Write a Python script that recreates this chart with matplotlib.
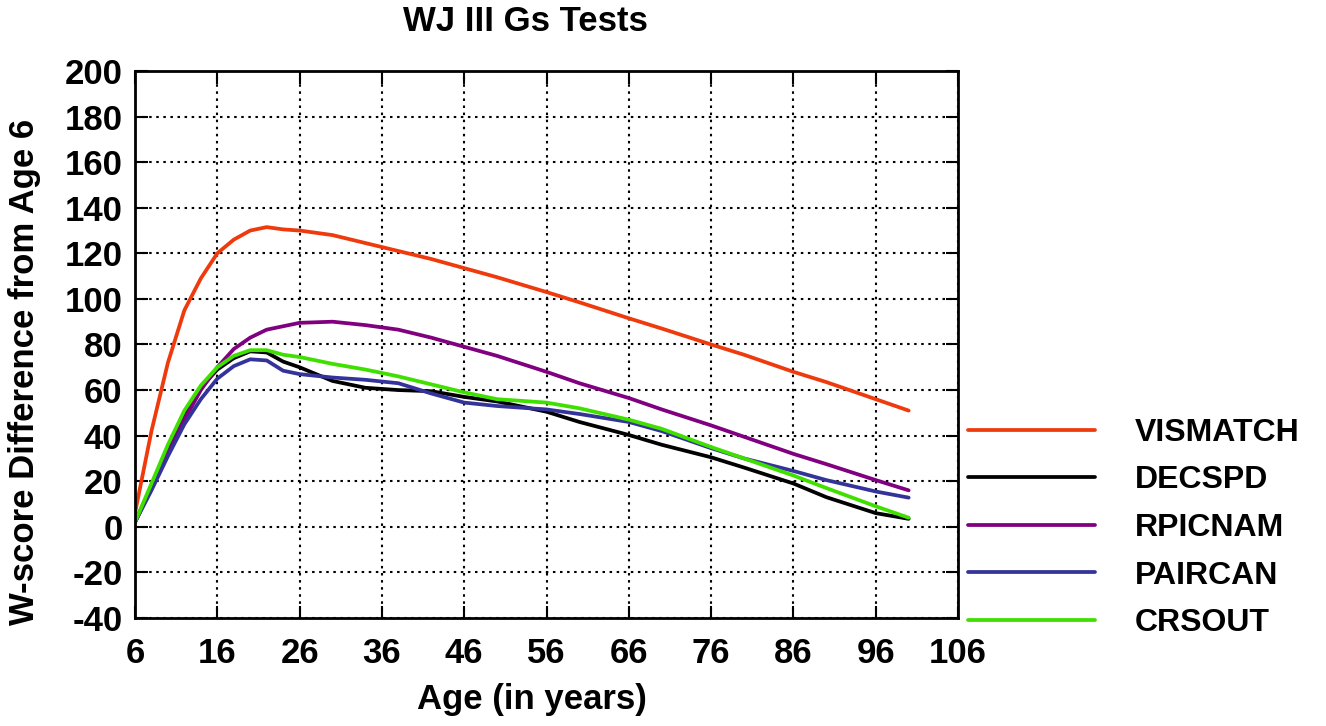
import matplotlib
matplotlib.use("Agg")
import matplotlib.pyplot as plt

ages = [6, 8, 10, 12, 14, 16, 18, 20, 22, 24, 26, 30, 34, 38, 42, 46, 50, 56, 60, 66, 70, 76, 80, 86, 90, 96, 100]

vismatch = [6, 42, 72, 95, 109, 120, 126, 130, 131.5, 130.5, 130, 128, 124.5, 121, 117.5, 113.5, 109.5, 103, 98.5, 91.5, 87, 80, 75.5, 68, 63.5, 56, 51]
decspd = [2, 18, 35, 50, 61, 69, 74, 77, 76.5, 72.5, 70, 64, 61, 60, 59.5, 57, 55, 50.5, 46, 40.3, 36, 30.5, 26, 19, 13, 6, 3.5]
rpicnam = [2, 17, 32, 47, 60, 70, 78, 83, 86.5, 88, 89.5, 90, 88.5, 86.5, 83, 79, 75, 68, 63, 56.5, 51.5, 44.5, 39.5, 32, 27.5, 20.5, 16]
paircan = [2, 16, 31, 45, 56, 65, 70.5, 73.5, 73, 68.5, 67, 65.5, 64.5, 63, 58.5, 54.5, 53, 51.5, 49.5, 46, 42, 34.5, 30, 24.5, 20.5, 15.5, 12.8]
crsout = [2, 19, 36, 51, 62, 70, 75, 77.5, 77.5, 75.5, 74.5, 71.5, 69, 66, 62.5, 59, 56, 54.5, 52, 47, 43, 35, 30, 22.5, 17, 9, 4]

series_names = ["VISMATCH", "DECSPD", "RPICNAM", "PAIRCAN", "CRSOUT"]
series_vals = [vismatch, decspd, rpicnam, paircan, crsout]
colors = ["#EE3A0C", "#000000", "#800080", "#333399", "#3FE000"]

xticks = list(range(6, 107, 10))
yticks = list(range(-40, 201, 20))

plt.rcParams['font.family'] = ['Liberation Sans', 'DejaVu Sans']
plt.rcParams['font.weight'] = 'bold'
plt.rcParams['axes.unicode_minus'] = False

FS = 25

fig = plt.figure(figsize=(13.26, 7.26), dpi=100)
ax = fig.add_axes([0.1018, 0.1488, 0.6207, 0.7534])

for name, vals, c in zip(series_names, series_vals, colors):
    ax.plot(ages, vals, color=c, lw=2.7, label=name, solid_capstyle='round')

ax.set_xlim(6, 106)
ax.set_ylim(-40, 200)
ax.set_xticks(xticks)
ax.set_yticks(yticks)
ax.grid(True, color='black', linestyle=(0, (1.2, 2.2)), linewidth=1.5)
ax.tick_params(axis='both', direction='in', length=9, width=1.5, top=True, right=True,
               labelsize=FS)
ax.tick_params(axis='x', pad=14)
ax.tick_params(axis='y', pad=9)
for lab in ax.get_xticklabels() + ax.get_yticklabels():
    lab.set_fontweight('bold')
for s in ax.spines.values():
    s.set_linewidth(2)

fig.text(0.396, 0.97, "WJ III Gs Tests", fontsize=FS, fontweight='bold', ha='center', va='center')
fig.text(532 / 1326, 1 - 700 / 726, "Age (in years)", fontsize=FS, fontweight='bold',
         ha='center', va='center')
fig.text(25 / 1326, 1 - 372 / 726, "W-score Difference from Age 6", fontsize=FS,
         fontweight='bold', ha='center', va='center', rotation=90)

leg = fig.legend(loc='upper left', bbox_to_anchor=(0.7083, 0.464), frameon=False,
                 handlelength=3.98, handletextpad=1.25, labelspacing=0.55,
                 prop={'weight': 'bold', 'size': 23})

fig.savefig("out.png", dpi=100)
